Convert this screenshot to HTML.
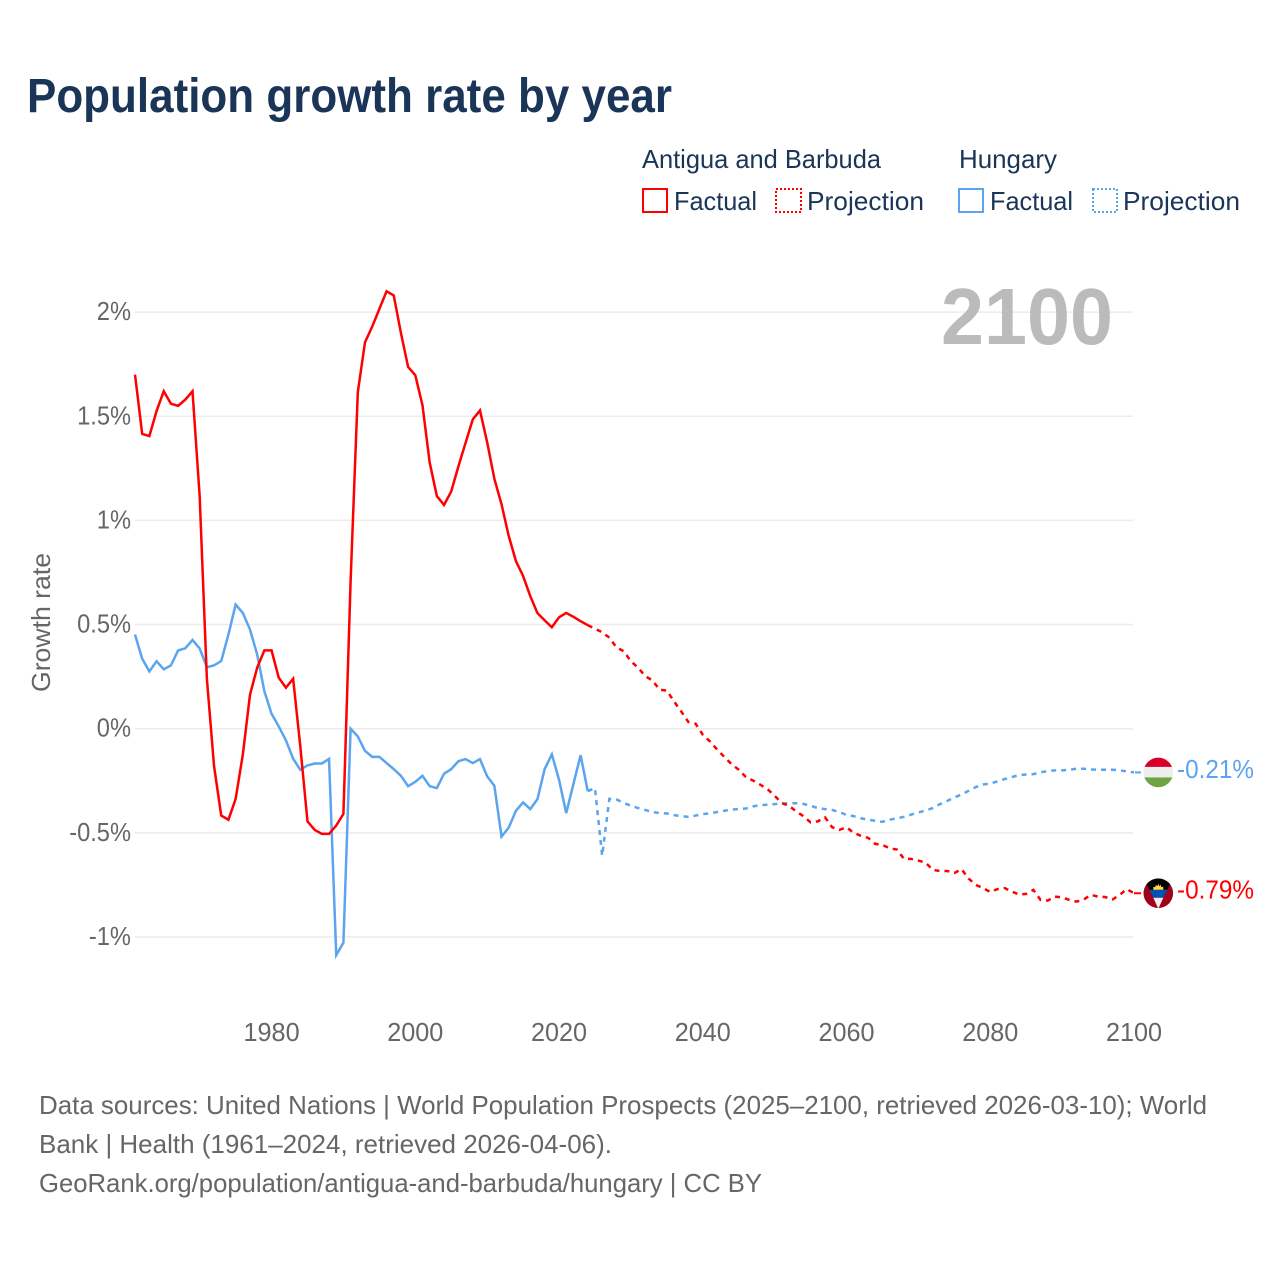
<!DOCTYPE html>
<html lang="en">
<head>
<meta charset="utf-8">
<title>Population growth rate by year</title>
<style>
html,body{margin:0;padding:0;background:#fff;}
svg{display:block;font-family:"Liberation Sans",sans-serif;}
.navy{fill:#1a3557;}
.grey{fill:#666;}
</style>
</head>
<body>
<svg id="chart" width="1280" height="1280" viewBox="0 0 1280 1280" xmlns="http://www.w3.org/2000/svg">
  <rect width="1280" height="1280" fill="#fff"/>
  <text class="navy" x="27" y="112" font-size="48" font-weight="700" textLength="645" lengthAdjust="spacingAndGlyphs">Population growth rate by year</text>

  <g font-size="26">
    <text class="navy" x="642" y="168" textLength="239" lengthAdjust="spacingAndGlyphs">Antigua and Barbuda</text>
    <text class="navy" x="959" y="168" textLength="98" lengthAdjust="spacingAndGlyphs">Hungary</text>
    <g>
      <rect x="643" y="189" width="24" height="23" fill="none" stroke="#ff0000" stroke-width="2"/>
      <text class="navy" x="674" y="210" textLength="83" lengthAdjust="spacingAndGlyphs">Factual</text>
    </g>
    <g>
      <rect x="776" y="189" width="25" height="23" fill="none" stroke="#ff0000" stroke-width="2" stroke-dasharray="2 2"/>
      <text class="navy" x="807" y="210" textLength="117" lengthAdjust="spacingAndGlyphs">Projection</text>
    </g>
    <g>
      <rect x="959" y="189" width="24" height="23" fill="none" stroke="#5ba4ef" stroke-width="2"/>
      <text class="navy" x="990" y="210" textLength="83" lengthAdjust="spacingAndGlyphs">Factual</text>
    </g>
    <g>
      <rect x="1093" y="189" width="24" height="23" fill="none" stroke="#5ba4ef" stroke-width="2" stroke-dasharray="2 2"/>
      <text class="navy" x="1123" y="210" textLength="117" lengthAdjust="spacingAndGlyphs">Projection</text>
    </g>
  </g>

  <g id="grid"></g>
  <g id="yTicks"></g>
  <g id="xTicks"></g>

  <text class="grey" font-size="26" transform="translate(50 692) rotate(-90)" textLength="139" lengthAdjust="spacingAndGlyphs">Growth rate</text>
  <text x="941" y="344" font-size="80" font-weight="700" fill="#bbbbbb" textLength="172" lengthAdjust="spacingAndGlyphs">2100</text>

  <g id="series"></g>

  <defs>
    <clipPath id="flagClip"><circle cx="0" cy="0" r="14.8"/></clipPath>
  </defs>
  <g id="flagHungary">
    <g clip-path="url(#flagClip)">
      <rect x="-15" y="-15" width="30" height="9.5" fill="#d80027"/>
      <rect x="-15" y="-5.5" width="30" height="10.5" fill="#eeeeee"/>
      <rect x="-15" y="5" width="30" height="10" fill="#6da544"/>
    </g>
  </g>
  <g id="flagAntigua">
    <g clip-path="url(#flagClip)">
      <rect x="-15" y="-15" width="30" height="30" fill="#a2001d"/>
      <polygon points="-15,-15 15,-15 9,-3.5 -9,-3.5" fill="#000000"/>
      <polygon points="-9,-3.5 9,-3.5 5,4.5 -5,4.5" fill="#0052b4"/>
      <polygon points="-5,4.5 5,4.5 0,15.5" fill="#eeeeee"/>
      <polygon points="-5,-3.5 -5,-6.5 -3,-6 -2.5,-8.5 -1,-7 0,-9.5 1,-7 2.5,-8.5 3,-6 5,-6.5 5,-3.5" fill="#ffda44"/>
    </g>
  </g>
  <g id="endLabels"></g>

  <g class="grey" font-size="26">
    <text x="39" y="1114" textLength="1168" lengthAdjust="spacingAndGlyphs">Data sources: United Nations | World Population Prospects (2025–2100, retrieved 2026-03-10); World</text>
    <text x="39" y="1153" textLength="573" lengthAdjust="spacingAndGlyphs">Bank | Health (1961–2024, retrieved 2026-04-06).</text>
    <text x="39" y="1192" textLength="723" lengthAdjust="spacingAndGlyphs">GeoRank.org/population/antigua-and-barbuda/hungary | CC BY</text>
  </g>
</svg>

<script>
const yTickValues = [2, 1.5, 1, 0.5, 0, -0.5, -1];
const xTickLabels = [1980, 2000, 2020, 2040, 2060, 2080, 2100];

const factualYears = [1961,1962,1963,1964,1965,1966,1967,1968,1969,1970,1971,1972,1973,1974,1975,1976,1977,1978,1979,1980,1981,1982,1983,1984,1985,1986,1987,1988,1989,1990,1991,1992,1993,1994,1995,1996,1997,1998,1999,2000,2001,2002,2003,2004,2005,2006,2007,2008,2009,2010,2011,2012,2013,2014,2015,2016,2017,2018,2019,2020,2021,2022,2023,2024];
const projectionYears = [2024,2025,2026,2027,2028,2029,2030,2031,2032,2033,2034,2035,2036,2037,2038,2039,2040,2041,2042,2043,2044,2045,2046,2047,2048,2049,2050,2051,2052,2053,2054,2055,2056,2057,2058,2059,2060,2061,2062,2063,2064,2065,2066,2067,2068,2069,2070,2071,2072,2073,2074,2075,2076,2077,2078,2079,2080,2081,2082,2083,2084,2085,2086,2087,2088,2089,2090,2091,2092,2093,2094,2095,2096,2097,2098,2099,2100];

const antiguaFactual = [1.70,1.415,1.405,1.525,1.62,1.56,1.55,1.58,1.62,1.115,0.24,-0.18,-0.417,-0.437,-0.337,-0.125,0.163,0.293,0.376,0.376,0.245,0.197,0.24,-0.085,-0.445,-0.486,-0.505,-0.505,-0.465,-0.409,0.71,1.615,1.855,1.93,2.015,2.10,2.08,1.90,1.737,1.697,1.553,1.278,1.117,1.074,1.139,1.26,1.373,1.485,1.528,1.375,1.20,1.077,0.925,0.805,0.733,0.636,0.555,0.52,0.487,0.535,0.556,0.537,0.516,0.497];
const antiguaProjection = [0.497,0.48,0.463,0.437,0.39,0.372,0.324,0.293,0.252,0.232,0.187,0.183,0.131,0.083,0.032,0.024,-0.029,-0.061,-0.10,-0.136,-0.17,-0.197,-0.232,-0.249,-0.269,-0.29,-0.322,-0.357,-0.37,-0.397,-0.42,-0.45,-0.445,-0.425,-0.473,-0.486,-0.473,-0.50,-0.514,-0.524,-0.553,-0.558,-0.574,-0.58,-0.625,-0.625,-0.633,-0.643,-0.678,-0.683,-0.683,-0.693,-0.674,-0.72,-0.75,-0.765,-0.784,-0.77,-0.765,-0.782,-0.796,-0.793,-0.774,-0.822,-0.825,-0.806,-0.81,-0.822,-0.83,-0.82,-0.798,-0.806,-0.808,-0.82,-0.798,-0.77,-0.79];

const hungaryFactual = [0.452,0.336,0.275,0.324,0.285,0.304,0.376,0.386,0.426,0.385,0.295,0.304,0.325,0.452,0.596,0.556,0.476,0.356,0.18,0.072,0.011,-0.056,-0.144,-0.197,-0.176,-0.167,-0.167,-0.145,-1.087,-1.027,0,-0.037,-0.106,-0.135,-0.135,-0.165,-0.194,-0.226,-0.276,-0.255,-0.226,-0.276,-0.285,-0.216,-0.194,-0.156,-0.146,-0.165,-0.146,-0.229,-0.274,-0.518,-0.475,-0.394,-0.354,-0.386,-0.338,-0.194,-0.123,-0.245,-0.405,-0.266,-0.127,-0.30];
const hungaryProjection = [-0.30,-0.285,-0.61,-0.337,-0.34,-0.356,-0.37,-0.381,-0.39,-0.40,-0.405,-0.407,-0.415,-0.42,-0.423,-0.417,-0.41,-0.407,-0.40,-0.394,-0.388,-0.386,-0.383,-0.373,-0.367,-0.365,-0.362,-0.359,-0.358,-0.358,-0.361,-0.37,-0.381,-0.386,-0.39,-0.40,-0.414,-0.42,-0.43,-0.437,-0.442,-0.447,-0.437,-0.43,-0.423,-0.412,-0.402,-0.393,-0.381,-0.362,-0.347,-0.33,-0.316,-0.298,-0.28,-0.268,-0.263,-0.253,-0.242,-0.232,-0.223,-0.22,-0.218,-0.21,-0.203,-0.20,-0.20,-0.197,-0.192,-0.192,-0.196,-0.197,-0.197,-0.197,-0.20,-0.205,-0.21];

const SVG_NS = 'http://www.w3.org/2000/svg';
const xScale = function (year) { return 135 + (year - 1961) * (999 / 139); };
const yScale = function (value) { return 728.7 - value * 208.3; };
const RED = '#ff0000';
const BLUE = '#5ba4ef';

function make(tag, parent) {
  const el = document.createElementNS(SVG_NS, tag);
  parent.appendChild(el);
  return el;
}

function linePath(years, values) {
  return values.map(function (v, i) {
    return (i ? 'L' : 'M') + xScale(years[i]).toFixed(2) + ' ' + yScale(v).toFixed(2);
  }).join(' ');
}

function squeeze(el, factor) {
  el.setAttribute('textLength', (el.getComputedTextLength() * factor).toFixed(1));
  el.setAttribute('lengthAdjust', 'spacingAndGlyphs');
}

const gridGroup = document.getElementById('grid');
const yTickGroup = document.getElementById('yTicks');
yTickValues.forEach(function (v) {
  const y = yScale(v);
  const line = make('line', gridGroup);
  
  
  line.setAttribute('x1', 135);
  line.setAttribute('x2', 1133);
  line.setAttribute('y1', y);
  line.setAttribute('y2', y);
  line.setAttribute('stroke', '#ececec');
  line.setAttribute('stroke-width', '1.5');

  const label = make('text', yTickGroup);
  
  
  label.setAttribute('class', 'grey');
  label.setAttribute('font-size', '26');
  label.setAttribute('x', 131);
  label.setAttribute('y', y + 8);
  label.setAttribute('text-anchor', 'end');
  label.textContent = v + '%';
  squeeze(label, 0.91);
});

const xTickGroup = document.getElementById('xTicks');
xTickLabels.forEach(function (year) {
  const label = make('text', xTickGroup);
  
  
  label.setAttribute('class', 'grey');
  label.setAttribute('font-size', '26');
  label.setAttribute('x', xScale(year));
  label.setAttribute('y', 1041);
  label.setAttribute('text-anchor', 'middle');
  label.textContent = year;
  squeeze(label, 0.97);
});

const seriesGroup = document.getElementById('series');

const hungaryFactualLine = make('path', seriesGroup);


hungaryFactualLine.setAttribute('d', linePath(factualYears, hungaryFactual));
hungaryFactualLine.setAttribute('fill', 'none');
hungaryFactualLine.setAttribute('stroke', BLUE);
hungaryFactualLine.setAttribute('stroke-width', '2.5');

const hungaryProjectionLine = make('path', seriesGroup);


hungaryProjectionLine.setAttribute('d', linePath(projectionYears, hungaryProjection));
hungaryProjectionLine.setAttribute('fill', 'none');
hungaryProjectionLine.setAttribute('stroke', BLUE);
hungaryProjectionLine.setAttribute('stroke-width', '2.5');
hungaryProjectionLine.setAttribute('stroke-dasharray', '5 5');

const antiguaFactualLine = make('path', seriesGroup);


antiguaFactualLine.setAttribute('d', linePath(factualYears, antiguaFactual));
antiguaFactualLine.setAttribute('fill', 'none');
antiguaFactualLine.setAttribute('stroke', RED);
antiguaFactualLine.setAttribute('stroke-width', '2.5');

const antiguaProjectionLine = make('path', seriesGroup);


antiguaProjectionLine.setAttribute('d', linePath(projectionYears, antiguaProjection));
antiguaProjectionLine.setAttribute('fill', 'none');
antiguaProjectionLine.setAttribute('stroke', RED);
antiguaProjectionLine.setAttribute('stroke-width', '2.5');
antiguaProjectionLine.setAttribute('stroke-dasharray', '5 5');

const hungaryLast = hungaryProjection[hungaryProjection.length - 1];
const antiguaLast = antiguaProjection[antiguaProjection.length - 1];

const hungaryConnector = make('line', seriesGroup);


hungaryConnector.setAttribute('x1', 1135);
hungaryConnector.setAttribute('x2', 1141);
hungaryConnector.setAttribute('y1', yScale(hungaryLast));
hungaryConnector.setAttribute('y2', yScale(hungaryLast));
hungaryConnector.setAttribute('stroke', BLUE);
hungaryConnector.setAttribute('stroke-width', '2');

const antiguaConnector = make('line', seriesGroup);


antiguaConnector.setAttribute('x1', 1134);
antiguaConnector.setAttribute('x2', 1141);
antiguaConnector.setAttribute('y1', yScale(antiguaLast));
antiguaConnector.setAttribute('y2', yScale(antiguaLast));
antiguaConnector.setAttribute('stroke', RED);
antiguaConnector.setAttribute('stroke-width', '2');

document.getElementById('flagHungary').setAttribute('transform', 'translate(1158.3 ' + yScale(hungaryLast) + ')');
document.getElementById('flagAntigua').setAttribute('transform', 'translate(1158.3 ' + yScale(antiguaLast) + ')');

const endLabelGroup = document.getElementById('endLabels');

const hungaryEndLabel = make('text', endLabelGroup);


hungaryEndLabel.setAttribute('x', 1177);
hungaryEndLabel.setAttribute('y', yScale(hungaryLast) + 5.5);
hungaryEndLabel.setAttribute('font-size', '26');
hungaryEndLabel.setAttribute('fill', BLUE);
hungaryEndLabel.textContent = hungaryLast.toFixed(2) + '%';
squeeze(hungaryEndLabel, 0.935);

const antiguaEndLabel = make('text', endLabelGroup);


antiguaEndLabel.setAttribute('x', 1177);
antiguaEndLabel.setAttribute('y', yScale(antiguaLast) + 5);
antiguaEndLabel.setAttribute('font-size', '26');
antiguaEndLabel.setAttribute('fill', RED);
antiguaEndLabel.textContent = antiguaLast.toFixed(2) + '%';
squeeze(antiguaEndLabel, 0.935);
</script>
</body>
</html>
